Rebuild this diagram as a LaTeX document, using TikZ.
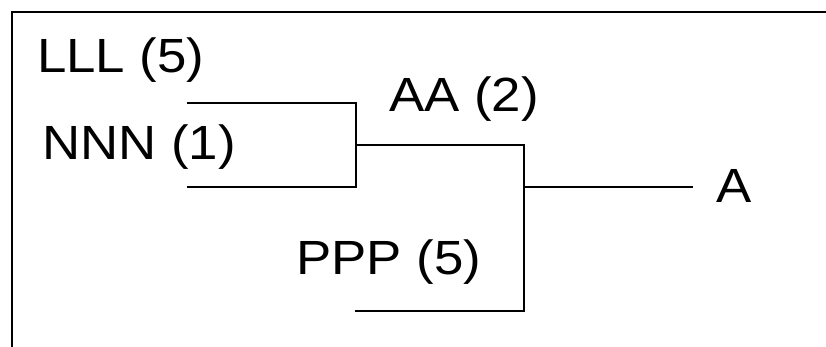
\documentclass[tikz,border=0pt]{standalone}
\usepackage{fontspec}
\setmainfont{Liberation Sans}
\begin{document}
\begin{tikzpicture}[x=1pt,y=1pt,
  lbl/.style={anchor=base west,inner sep=0pt,font=\fontsize{48}{52}\selectfont,xscale=1.1},
  wire/.style={line width=1.2pt,line cap=rect},
  frameline/.style={line width=1.6pt}]
\useasboundingbox (0,0) rectangle (826,347);
% frame (top and left edges)
\coordinate (fl) at (12,0);
\coordinate (ftl) at (12,335);
\coordinate (ftr) at (826,335);
\draw[frameline] (fl) -- (ftl) -- (ftr);
% labels
\node[lbl] (lll) at (37,274) {LLL (5)};
\node[lbl] (nnn) at (42,187) {NNN (1)};
\node[lbl] (aa) at (389,235) {AA (2)};
\node[lbl] (ppp) at (296,72) {PPP (5)};
\node[lbl] (a) at (716,144) {A};
% bracket points
\coordinate (l0) at (188,244);
\coordinate (l1) at (356,244);
\coordinate (n0) at (188,160);
\coordinate (n1) at (356,160);
\coordinate (j1) at (356,202);
\coordinate (j2) at (524,202);
\coordinate (p0) at (356,36);
\coordinate (p1) at (524,36);
\coordinate (j3) at (524,160);
\coordinate (a0) at (692,160);
\draw[wire] (l0) -- (l1) -- (n1) -- (n0);
\draw[wire] (j1) -- (j2) -- (p1) -- (p0);
\draw[wire] (j3) -- (a0);
\end{tikzpicture}
\end{document}
